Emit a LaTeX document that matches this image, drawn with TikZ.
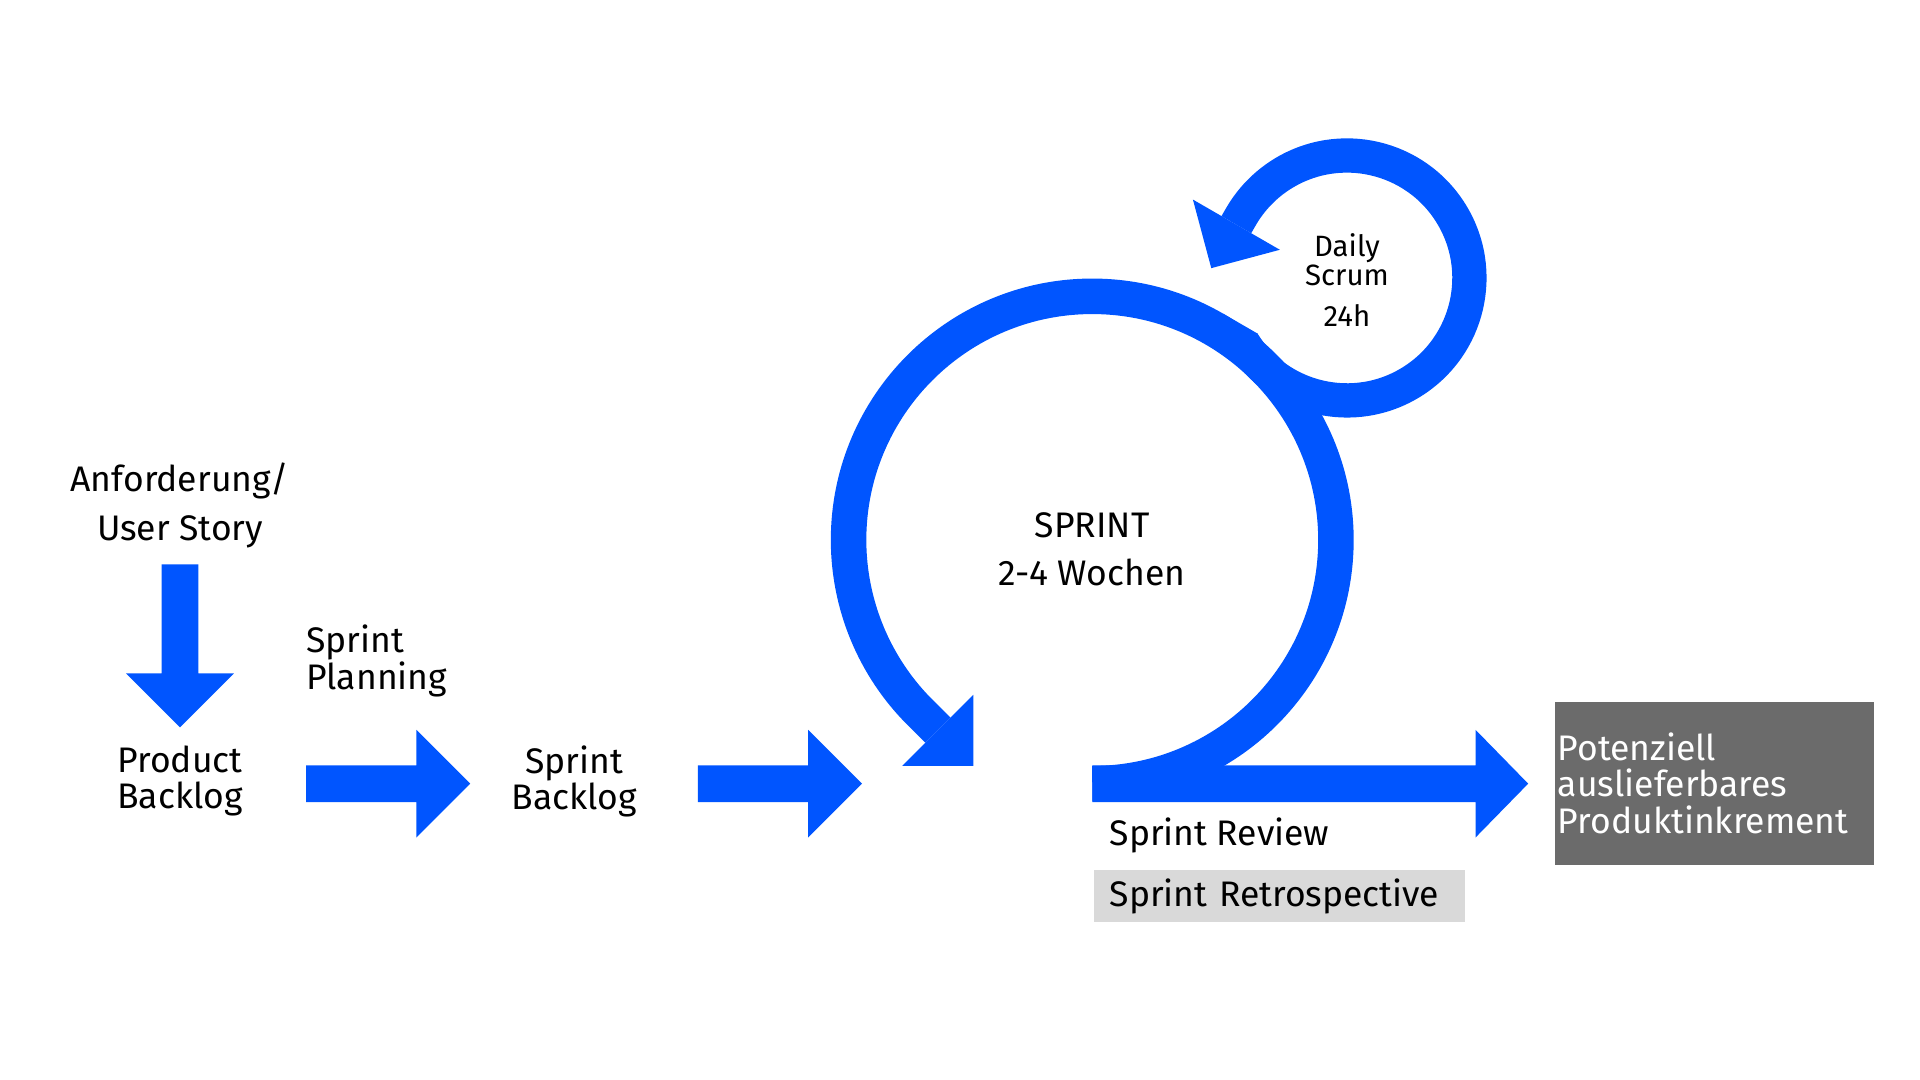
\documentclass[tikz,border=0pt]{standalone}
\usepackage{fontspec}
\setmainfont{Fira Sans}
\definecolor{scrumblue}{RGB}{0,85,255}
\definecolor{retrogray}{RGB}{217,217,217}
\definecolor{boxgray}{RGB}{107,107,107}
\begin{document}
\begin{tikzpicture}[x=1pt,y=1pt,
  lbl/.style={font=\fontsize{29}{29}\selectfont, align=center, inner sep=0pt, text=black},
  small/.style={font=\fontsize{24}{24}\selectfont, align=center, inner sep=0pt, text=black},
  blockarrow/.style={fill=scrumblue},
  ring/.style={draw=scrumblue, line cap=butt}]
\useasboundingbox (0,0) rectangle (1568,882);
\fill[white] (0,0) rectangle (1568,882);

% ---- text nodes
\node[lbl, font=\fontsize{29}{40}\selectfont] (req) at (147,469) {Anforderung/\\User Story};
\node[lbl] (pb) at (147,244) {Product\\Backlog};
\node[lbl, font=\fontsize{29}{30}\selectfont, align=left, anchor=west] (sp) at (250,342) {Sprint\\Planning};
\node[lbl] (sb) at (469,244) {Sprint\\Backlog};
\node[lbl, font=\fontsize{29}{39}\selectfont] (sprint) at (892,433.5) {SPRINT\\2-4 Wochen};
\node[small] (daily) at (1100,670) {Daily\\Scrum};
\node[small] (h24) at (1100,624) {24h};
\node[lbl, anchor=west] (review) at (906,200) {Sprint Review};
\node[lbl, fill=retrogray, anchor=north west, minimum height=43pt, text width=277pt,
      inner xsep=13pt, inner ysep=0pt, align=left] (retro) at (893,172) {Sprint Retrospective};
\node[lbl, font=\fontsize{29}{29.5}\selectfont, fill=boxgray, text=white, anchor=north west,
      minimum height=133pt, text width=256pt, inner xsep=2pt, inner ysep=0pt, align=left] (inc) at (1270,309)
      {Potenziell\\auslieferbares\\Produktinkrement};

% ---- straight block arrows
\fill[blockarrow] (132,421) -- (162,421) -- (162,332) -- (191,332) -- (147,288) -- (103,332) -- (132,332) -- cycle;
\fill[blockarrow] (250,257) -- (340,257) -- (340,286) -- (384,242) -- (340,198) -- (340,227) -- (250,227) -- cycle;
\fill[blockarrow] (570,257) -- (660,257) -- (660,286) -- (704,242) -- (660,198) -- (660,227) -- (570,227) -- cycle;
\fill[blockarrow] (892,257) -- (1205,257) -- (1205,286) -- (1248,242) -- (1205,198) -- (1205,227) -- (892,227) -- cycle;

% ---- sprint loop
\draw[ring, line width=29pt] (892,242) arc[start angle=-90, end angle=225, radius=199] -- ++(14.7,-14.7);
\fill[blockarrow] (795,314.6) -- (737,256.6) -- (795,256.6) -- cycle;

% ---- daily scrum loop
\draw[ring, line width=28pt] (1015.2,602) arc[start angle=212, end angle=510, radius=100] -- ++(-3.75,-6.5);
\fill[blockarrow] (1045.2,678) -- (974.2,719) -- (989.2,663) -- cycle;
% junction fill
\fill[blockarrow] (999.1,625.7) -- (1027.3,609.4) -- (1003.3,594.6) -- (985.9,617.6) -- cycle;
\end{tikzpicture}
\end{document}
